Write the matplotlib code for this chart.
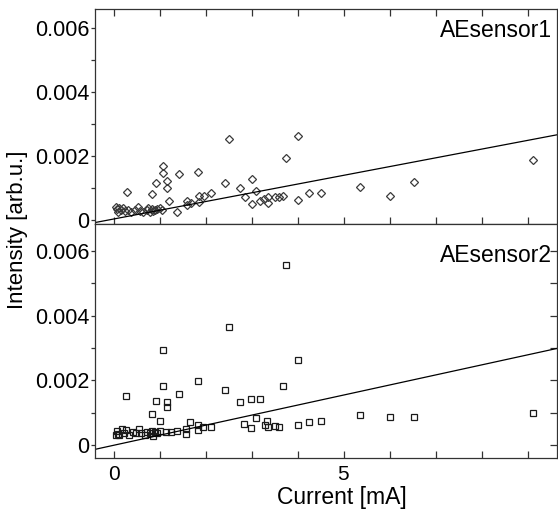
import numpy as np
import matplotlib
matplotlib.use("Agg")
import matplotlib.pyplot as plt
from matplotlib.ticker import MultipleLocator, FixedLocator, NullFormatter

# ---- data (current in mA, intensity in arb.u.) ----
x1 = [0.06, 0.09, 0.15, 0.20, 0.24, 0.31, 0.38, 0.46, 0.53, 0.57, 0.64, 0.71, 0.75, 0.78,
      0.82, 0.86, 0.90, 0.93, 1.00, 1.04, 0.05, 0.12,
      0.28, 0.82, 0.91, 1.07, 1.07, 1.16, 1.16, 1.20, 1.42, 1.37, 1.58, 1.58, 1.67, 1.83,
      1.84, 1.84, 1.96, 2.12, 2.41, 2.50, 2.75, 2.85, 3.01, 3.01, 3.08, 3.17, 3.26, 3.34,
      3.34, 3.50, 3.58, 3.67, 3.75, 4.01, 4.01, 4.25, 4.50, 5.35, 6.01, 6.52, 9.11]
y1 = [0.33, 0.26, 0.31, 0.36, 0.28, 0.31, 0.25, 0.31, 0.40, 0.29, 0.26, 0.31, 0.36, 0.26,
      0.33, 0.28, 0.31, 0.34, 0.36, 0.31, 0.40, 0.38,
      0.88, 0.81, 1.15, 1.70, 1.48, 1.22, 0.99, 0.59, 1.44, 0.26, 0.59, 0.47, 0.52, 1.51,
      0.76, 0.57, 0.76, 0.85, 1.17, 2.54, 0.99, 0.73, 1.27, 0.50, 0.92, 0.60, 0.66, 0.71,
      0.54, 0.71, 0.73, 0.74, 1.95, 2.62, 0.63, 0.85, 0.85, 1.04, 0.74, 1.18, 1.88]
y1 = [v * 1e-3 for v in y1]

x2 = [0.06, 0.09, 0.17, 0.22, 0.26, 0.33, 0.42, 0.49, 0.55, 0.60, 0.67, 0.72, 0.78, 0.82,
      0.85, 0.89, 0.94, 1.00, 0.05, 0.12,
      0.27, 0.82, 0.91, 1.07, 1.07, 1.15, 1.15, 1.01, 1.41, 1.14, 1.25, 1.38, 1.57, 1.57,
      1.65, 1.83, 1.83, 1.83, 1.94, 2.12, 2.41, 2.50, 2.75, 2.83, 2.99, 2.99, 3.08, 3.17,
      3.32, 3.28, 3.34, 3.50, 3.59, 3.67, 3.75, 4.01, 4.01, 4.25, 4.50, 5.35, 6.01, 6.52, 9.11]
y2 = [0.44, 0.34, 0.49, 0.38, 0.46, 0.31, 0.41, 0.36, 0.49, 0.38, 0.31, 0.41, 0.36, 0.44,
      0.28, 0.41, 0.36, 0.44, 0.30, 0.30,
      1.52, 0.96, 1.36, 2.94, 1.82, 1.34, 1.18, 0.74, 1.58, 0.41, 0.41, 0.43, 0.49, 0.34,
      0.72, 1.99, 0.62, 0.46, 0.55, 0.57, 1.70, 3.66, 1.33, 0.64, 1.43, 0.54, 0.83, 1.42,
      0.75, 0.62, 0.57, 0.59, 0.55, 1.83, 5.57, 2.63, 0.61, 0.70, 0.76, 0.94, 0.88, 0.88, 0.98]
y2 = [v * 1e-3 for v in y2]

# linear fits (intercept, slope)
fit1 = (0.032e-3, 0.273e-3)
fit2 = (-0.005e-3, 0.311e-3)

labels = ["AEsensor1", "AEsensor2"]
ytick_vals = [0, 0.002, 0.004, 0.006]
ytick_labels = ["0", "0.002", "0.004", "0.006"]
xtick_vals = [0, 5]
xtick_labels = ["0", "5"]

plt.rcParams['font.family'] = ['Liberation Sans', 'DejaVu Sans']

fig = plt.figure(figsize=(5.58, 5.11), dpi=100)
L, R = 95 / 558, 557 / 558
ax1 = fig.add_axes([L, 1 - 224 / 511, R - L, (224 - 9) / 511])
ax2 = fig.add_axes([L, 1 - 458 / 511, R - L, (458 - 224) / 511])

xlim = (-0.41, 9.63)
xx = np.array(xlim)

ax1.plot(x1, y1, linestyle='none', marker='D', markersize=3.8, mfc='none',
         mec='#3a3a3a', mew=0.9)
ax1.plot(xx, fit1[0] + fit1[1] * xx, color='black', lw=0.9)
ax2.plot(x2, y2, linestyle='none', marker='s', markersize=4.8, mfc='none',
         mec='#1a1a1a', mew=0.9)
ax2.plot(xx, fit2[0] + fit2[1] * xx, color='black', lw=0.9)

ax1.set_ylim(-0.000125, 0.00659)
ax2.set_ylim(-0.0004, 0.00684)

for ax in (ax1, ax2):
    ax.set_xlim(*xlim)
    for s in ax.spines.values():
        s.set_linewidth(0.9)
        s.set_color('#333333')
    ax.xaxis.set_major_locator(MultipleLocator(1))
    ax.yaxis.set_major_locator(FixedLocator(ytick_vals))
    ax.yaxis.set_minor_locator(FixedLocator([0.001, 0.003, 0.005]))
    ax.set_yticklabels(ytick_labels)
    ax.tick_params(axis='y', which='both', direction='out', length=3, width=0.9,
                   pad=1, labelsize=15.5, color='#333333')
    ax.tick_params(axis='x', which='both', direction='in', length=5, width=0.9,
                   color='#333333')

ax1.tick_params(axis='x', top=True, bottom=True, labelbottom=False)
ax2.tick_params(axis='x', top=False, bottom=True)
ax2.tick_params(axis='y', which='both', right=True)
ax2.xaxis.set_major_formatter(NullFormatter())
for xv, lab in zip(xtick_vals, xtick_labels):
    ax2.annotate(lab, xy=(xv, 0), xycoords=('data', 'axes fraction'),
                 xytext=(-1 if xv else 0, -5), textcoords='offset points',
                 ha='center', va='top', fontsize=15)

# right ticks on lower panel point inward
for t in ax2.yaxis.get_major_ticks() + ax2.yaxis.get_minor_ticks():
    t.tick2line.set_marker(matplotlib.lines.TICKLEFT)
    t.tick2line.set_markersize(5)

ax1.text(0.99, 0.87, labels[0], transform=ax1.transAxes, ha='right',
         va='baseline', fontsize=16.5)
ax2.text(0.99, 0.838, labels[1], transform=ax2.transAxes, ha='right',
         va='baseline', fontsize=16.5)

fig.text(342 / 558, 1 - 504 / 511, "Current [mA]", ha='center', va='baseline',
         fontsize=16.5)
fig.text(18 / 558, 1 - 230 / 511, "Intensity [arb.u.]", rotation=90,
         ha='center', va='center', fontsize=16)

fig.savefig("out.png", dpi=100)
